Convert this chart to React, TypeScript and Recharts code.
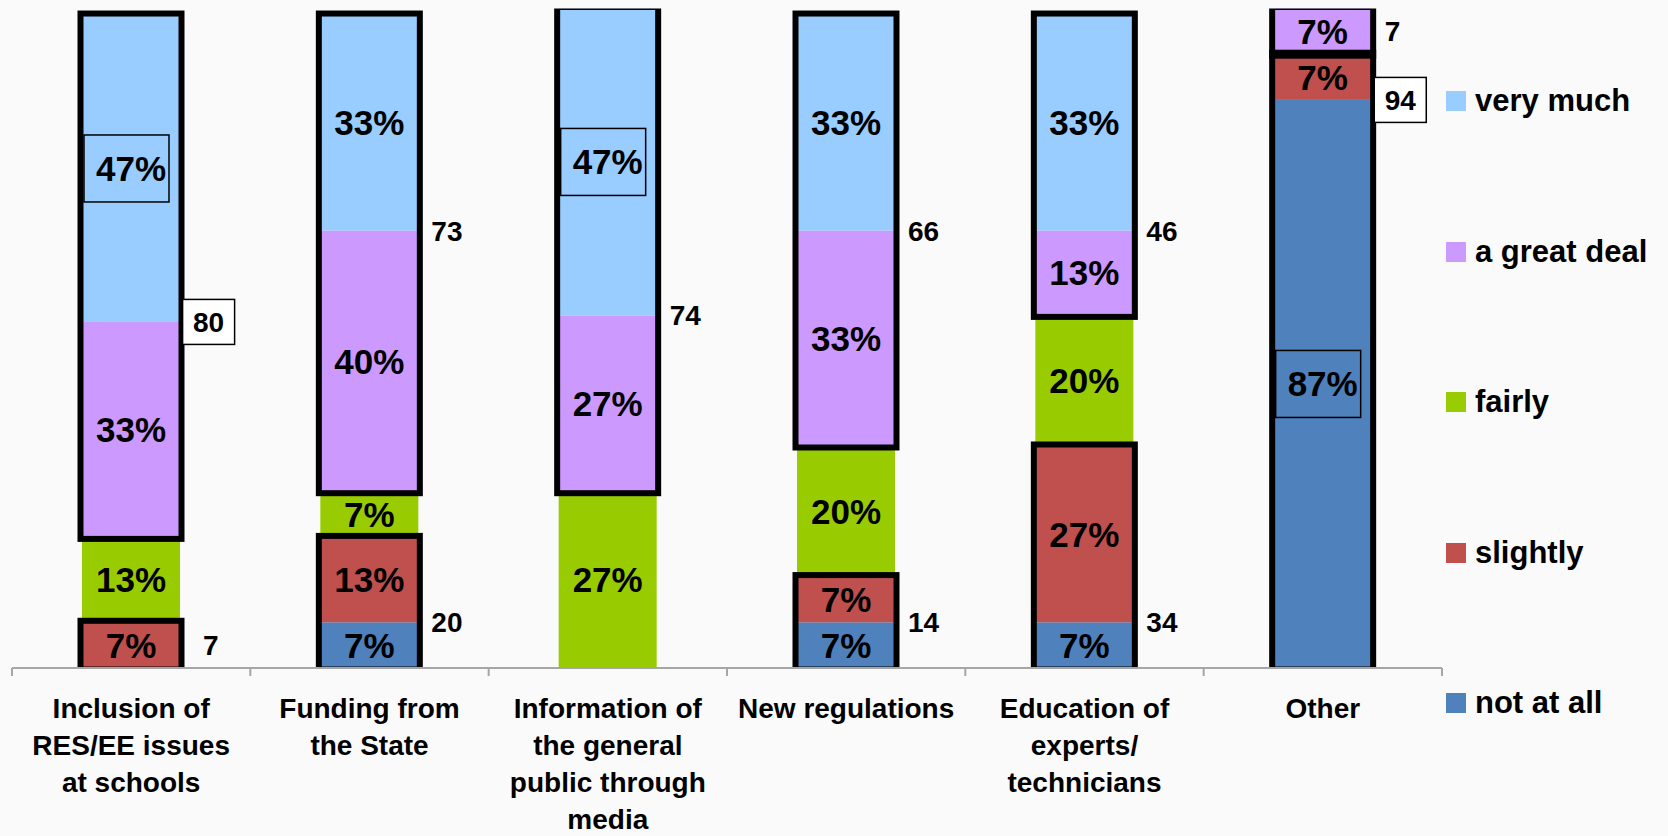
import { BarChart, Bar, XAxis, YAxis } from 'recharts'

const categoryLines = [
  ['Inclusion of', 'RES/EE issues', 'at schools'],
  ['Funding from', 'the State'],
  ['Information of', 'the general', 'public through', 'media'],
  ['New regulations'],
  ['Education of', 'experts/', 'technicians'],
  ['Other'],
]
const categories = categoryLines.map(l => l.join(' '))

// stacked bottom -> top
const notAtAll = [0, 7, 0, 7, 7, 87]
const slightly = [7, 13, 0, 7, 27, 7]
const fairly = [13, 7, 27, 20, 20, 0]
const greatDeal = [33, 40, 27, 33, 13, 7]
const veryMuch = [47, 33, 47, 33, 33, 0]

const seriesKeys = ['notAtAll', 'slightly', 'fairly', 'greatDeal', 'veryMuch']
const seriesNames = ['not at all', 'slightly', 'fairly', 'a great deal', 'very much']
const seriesColors = ['#4F81BD', '#C0504D', '#99CC00', '#CC99FF', '#99CCFF']

// percent labels with a thin frame, and group totals with a frame
const boxedPercents: [number, string][] = [[0, 'veryMuch'], [2, 'veryMuch'], [5, 'notAtAll']]
const boxedTotals: [number, string][] = [[0, 'high'], [5, 'low']]

const data = categories.map((name, i) => ({
  name,
  notAtAll: notAtAll[i],
  slightly: slightly[i],
  fairly: fairly[i],
  greatDeal: greatDeal[i],
  veryMuch: veryMuch[i],
  low: notAtAll[i] + slightly[i],
  gap: fairly[i],
  high: greatDeal[i] + veryMuch[i],
}))

const FONT = '"Liberation Sans", Arial, sans-serif'
const W = 1668
const H = 836
const BAND_HALF = 1430 / 12

const segmentShape = (key: string) => (props: any) => {
  const { x, y, width, height, payload, fill } = props
  if (!(height > 0)) return null
  const idx = categories.indexOf(payload.name)
  const cx = x + width / 2
  const cy = y + height / 2
  const boxed = boxedPercents.some(([i, k]) => i === idx && k === key)
  return (
    <g>
      <rect x={x} y={y} width={width} height={height} fill={fill} />
      {boxed && (
        <rect x={x + 2} y={cy - 33.5} width={85} height={67} fill="none" stroke="#000" strokeWidth={1.5} />
      )}
      <text x={cx} y={cy + 12.5} textAnchor="middle" fontSize={35} fontWeight="bold" fontFamily={FONT} fill="#000">
        {payload[key]}%
      </text>
    </g>
  )
}

const groupShape = (group: string) => (props: any) => {
  const { x, y, width, height, payload } = props
  if (!(height > 0)) return null
  const idx = categories.indexOf(payload.name)
  const total = payload[group]
  const ppu = height / total
  const [topKey, lowKey] = group === 'high' ? ['veryMuch', 'greatDeal'] : ['slightly', 'notAtAll']
  const ly = payload[topKey] > 0 && payload[lowKey] > 0 ? y + payload[topKey] * ppu : y + height / 2
  const txt = String(total)
  const tx = x + width + (txt.length === 1 && idx === 0 ? 23 : 13)
  const tw = txt.length * 15.6
  const boxed = boxedTotals.some(([i, g]) => i === idx && g === group)
  return (
    <g>
      <rect x={x - 1.5} y={y - 1.5} width={width + 3} height={height + 3} fill="none" stroke="#000" strokeWidth={6} />
      {boxed && (
        <rect x={tx + tw / 2 - 26} y={ly - 22.5} width={52} height={45} fill="#fff" stroke="#000" strokeWidth={1.5} />
      )}
      <text x={tx} y={ly + 10} fontSize={28} fontWeight="bold" fontFamily={FONT} fill="#000">
        {txt}
      </text>
    </g>
  )
}

const CategoryTick = (props: any) => {
  const { x, y, payload, index } = props
  const half = payload?.offset || BAND_HALF
  const idx = categories.indexOf(payload.value)
  const lines = categoryLines[idx] || [payload.value]
  return (
    <g>
      <line x1={x - half} x2={x - half} y1={y} y2={y + 8} stroke="#A6A6A6" strokeWidth={2} />
      {index === categories.length - 1 && (
        <line x1={x + half} x2={x + half} y1={y} y2={y + 8} stroke="#A6A6A6" strokeWidth={2} />
      )}
      {lines.map((l, i) => (
        <text key={i} x={x} y={y + 50 + i * 37} textAnchor="middle" fontSize={28} fontWeight="bold" fontFamily={FONT} fill="#000">
          {l}
        </text>
      ))}
    </g>
  )
}

export default function App() {
  return (
    <div style={{ position: 'absolute', left: 0, top: 0, width: W, height: H, background: '#FAFAFA', overflow: 'hidden' }}>
      <BarChart
        width={W}
        height={H}
        data={data}
        barSize={98}
        margin={{ top: 8.5, right: 226, left: 12, bottom: 8 }}
      >
        <XAxis
          dataKey="name"
          height={160}
          interval={0}
          tickSize={0}
          tickMargin={0}
          tickLine={false}
          axisLine={{ stroke: '#A6A6A6', strokeWidth: 2 }}
          tick={<CategoryTick />}
        />
        <XAxis xAxisId="box" dataKey="name" hide />
        <YAxis hide domain={[0, 101]} allowDataOverflow />
        {seriesKeys.map((k, i) => (
          <Bar
            key={k}
            dataKey={k}
            name={seriesNames[i]}
            stackId="seg"
            fill={seriesColors[i]}
            shape={segmentShape(k)}
            isAnimationActive={false}
          />
        ))}
        <Bar xAxisId="box" dataKey="low" stackId="box" fill="none" shape={groupShape('low')} isAnimationActive={false} />
        <Bar xAxisId="box" dataKey="gap" stackId="box" fill="none" shape={() => null} isAnimationActive={false} />
        <Bar xAxisId="box" dataKey="high" stackId="box" fill="none" shape={groupShape('high')} isAnimationActive={false} />
      </BarChart>
      {seriesKeys.slice().reverse().map((k, j) => {
        const i = seriesKeys.length - 1 - j
        return (
          <div
            key={k}
            style={{
              position: 'absolute',
              left: 1446,
              top: 101 + j * 150.5 - 20,
              height: 40,
              display: 'flex',
              alignItems: 'center',
              fontFamily: FONT,
              fontWeight: 'bold',
              fontSize: 31,
              whiteSpace: 'nowrap',
            }}
          >
            <span style={{ display: 'inline-block', width: 20, height: 20, background: seriesColors[i], marginRight: 9 }} />
            <span>{seriesNames[i]}</span>
          </div>
        )
      })}
    </div>
  )
}
